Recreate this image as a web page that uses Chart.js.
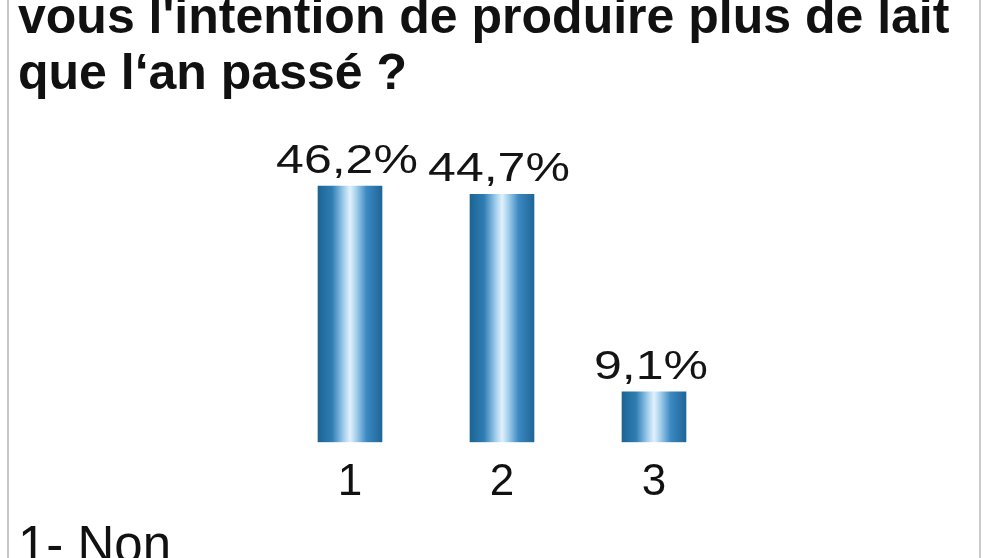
<!DOCTYPE html>
<html>
<head>
<meta charset="utf-8">
<script src="https://cdn.jsdelivr.net/npm/chart.js@4"></script>
<style>
  html, body { margin: 0; padding: 0; background: #fff; }
  #page { position: relative; width: 1000px; height: 558px; overflow: hidden; background: #fff; }
  #box { position: absolute; left: 0; top: -40px; width: 1000px; height: 640px; }
  .edge { position: absolute; top: 0; width: 2px; height: 558px; background: #c9c9c9; }
</style>
</head>
<body>
<div id="page">
  <div id="box"><canvas id="chart"></canvas></div>
  <div class="edge" style="left:7px"></div>
  <div class="edge" style="left:979px"></div>
</div>
<script>
// donnees du sondage
const categories = ['1', '2', '3'];
const values = [46.2, 44.7, 9.1];
const titleLines = ["vous l'intention de produire plus de lait", 'que l‘an passé ?'];
const footnote = '1- Non';

// degrade "cylindre" pose sur chaque barre juste avant le dessin
const cylinder = {
  id: 'cylinder',
  beforeDatasetsDraw(chart) {
    const meta = chart.getDatasetMeta(0);
    meta.data.forEach(bar => {
      if (!isFinite(bar.x) || !isFinite(bar.width)) return;
      const l = bar.x - bar.width / 2, r = bar.x + bar.width / 2;
      const g = chart.ctx.createLinearGradient(l, 0, r, 0);
      g.addColorStop(0, '#1b6594');
      g.addColorStop(0.22, '#2f7db3');
      g.addColorStop(0.4, '#9fcdec');
      g.addColorStop(0.5, '#e2f1fb');
      g.addColorStop(0.6, '#a2cfec');
      g.addColorStop(0.76, '#3c88c1');
      g.addColorStop(1, '#1e6697');
      bar.options = Object.assign({}, bar.options, { backgroundColor: g });
    });
  }
};

// etiquettes de valeur au-dessus des barres
const valueLabels = {
  id: 'valueLabels',
  afterDatasetsDraw(chart) {
    const ctx = chart.ctx;
    const meta = chart.getDatasetMeta(0);
    ctx.save();
    ctx.fillStyle = '#141414';
    ctx.font = '40px "Liberation Sans", Arial, sans-serif';
    ctx.textAlign = 'center';
    ctx.textBaseline = 'alphabetic';
    meta.data.forEach((bar, i) => {
      const txt = values[i].toFixed(1).replace('.', ',') + '%';
      ctx.save();
      ctx.translate(bar.x - 3, bar.y - 13);
      ctx.scale(1.25, 1);
      ctx.fillText(txt, 0, 0);
      ctx.restore();
    });
    ctx.restore();
  }
};

const ctx = document.getElementById('chart').getContext('2d');
new Chart(ctx, {
  type: 'bar',
  data: {
    labels: categories,
    datasets: [{
      data: values,
      backgroundColor: () => '#2f7db3',
      borderWidth: 0,
      barThickness: 64
    }]
  },
  options: {
    responsive: true,
    maintainAspectRatio: false,
    animation: false,
    layout: { padding: { left: 18, right: 0, top: 0, bottom: 0 } },
    plugins: {
      legend: { display: false },
      tooltip: { enabled: false },
      title: {
        display: true,
        text: titleLines,
        align: 'start',
        color: '#111',
        font: { family: '"Liberation Sans", Arial, sans-serif', size: 50, weight: 'bold', lineHeight: 1.12 },
        padding: { top: 31, bottom: 62 }
      },
      subtitle: {
        display: true,
        position: 'bottom',
        text: footnote,
        align: 'start',
        color: '#111',
        font: { family: '"Liberation Sans", Arial, sans-serif', size: 51, weight: 'normal', lineHeight: 1.13 },
        padding: { top: 6, bottom: 23 }
      }
    },
    scales: {
      x: {
        grid: { display: false },
        border: { display: false },
        ticks: {
          color: '#111',
          padding: 6,
          font: { family: '"Liberation Sans", Arial, sans-serif', size: 44 }
        },
        afterFit(s) { s.height = 71; }
      },
      y: {
        min: 0,
        max: 50,
        grid: { display: false },
        border: { display: false },
        ticks: { display: false },
        afterFit(s) { s.width = 256; }
      },
      yRight: {
        position: 'right',
        grid: { display: false },
        border: { display: false },
        ticks: { display: false },
        afterFit(s) { s.width = 270; }
      }
    }
  },
  plugins: [cylinder, valueLabels]
});
</script>
</body>
</html>
